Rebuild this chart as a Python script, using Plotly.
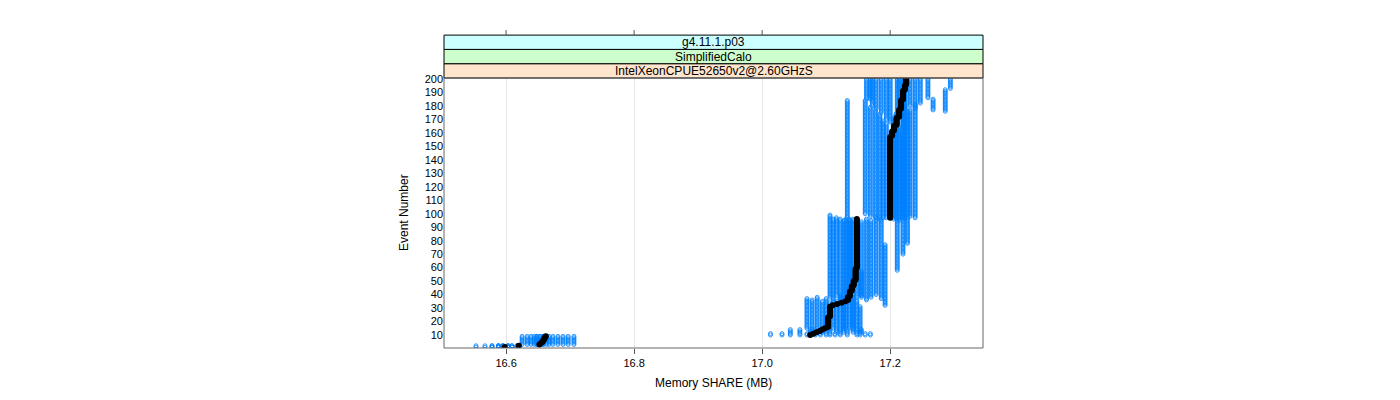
import plotly.graph_objects as go

# ---------------- data ----------------
events_low = list(range(1, 10))      # events in the lower (16.5-16.7 MB) cluster
events_high_first = 10
events_last = 200

# blue runs: lower cluster value for events 1-2 and for events 3-9
run_low_a = [16.553, 16.567, 16.578, 16.588, 16.595, 16.603, 16.609, 16.617, 16.603,
             16.595, 16.588, 16.609, 16.578, 16.617, 16.595, 16.603, 16.588]
run_low_b = [16.625, 16.633, 16.639, 16.644, 16.648, 16.653, 16.658, 16.663, 16.667,
             16.673, 16.681, 16.689, 16.697, 16.706, 16.653, 16.658, 16.648]

# blue runs: upper part as (start event, value) steps
run_starts = [
    [10, 12, 15, 38, 100, 185],
    [10, 12, 15, 37, 97, 185],
    [10, 12, 15, 39, 98, 180],
    [10, 12, 15, 36, 97, 178],
    [10, 12, 15, 38, 96, 175],
    [10, 12, 15, 35, 97, 170],
    [10, 12, 15, 37, 97, 168],
    [10, 12, 15, 36, 96, 172],
    [10, 12, 15, 40, 97, 175],
    [10, 12, 15, 38, 95, 165],
    [10, 12, 15, 36, 97, 160],
    [10, 12, 15, 38, 96, 180],
    [10, 12, 15, 40, 98, 178],
    [10, 12, 15, 37, 97, 182],
    [10, 12, 15, 32, 78, 177, 186],
    [10, 12, 15, 39, 58, 176, 193],
    [10, 12, 15, 38, 70, 170],
]
run_values = [
    [17.013, 17.044, 17.070, 17.106, 17.161, 17.163],
    [17.031, 17.059, 17.078, 17.111, 17.133, 17.169],
    [17.044, 17.075, 17.086, 17.116, 17.169, 17.172],
    [17.059, 17.078, 17.094, 17.122, 17.177, 17.178],
    [17.070, 17.083, 17.100, 17.128, 17.184, 17.186],
    [17.075, 17.091, 17.105, 17.131, 17.189, 17.194],
    [17.083, 17.094, 17.111, 17.136, 17.194, 17.200],
    [17.091, 17.100, 17.116, 17.138, 17.205, 17.211],
    [17.100, 17.106, 17.122, 17.142, 17.209, 17.214],
    [17.106, 17.116, 17.127, 17.155, 17.214, 17.220],
    [17.114, 17.122, 17.131, 17.163, 17.219, 17.223],
    [17.122, 17.127, 17.136, 17.170, 17.223, 17.231],
    [17.133, 17.133, 17.142, 17.178, 17.231, 17.239],
    [17.148, 17.142, 17.148, 17.186, 17.239, 17.247],
    [17.153, 17.148, 17.153, 17.192, 17.227, 17.267, 17.259],
    [17.161, 17.153, 17.142, 17.155, 17.211, 17.286, 17.294],
    [17.169, 17.155, 17.127, 17.148, 17.220, 17.223],
]

# black (highlighted) run
black_low = [16.598, 16.620, 16.652, 16.655, 16.657, 16.658, 16.660, 16.660, 16.662]
black_starts = [10, 11, 12, 13, 14, 15, 16, 24, 32, 33, 34, 35, 36, 39, 43, 47, 51, 60,
                97, 158, 162, 166, 172, 178, 185, 192, 196]
black_values = [17.075, 17.080, 17.085, 17.090, 17.094, 17.098, 17.103, 17.106,
                17.110, 17.117, 17.124, 17.130, 17.134, 17.137, 17.140, 17.143,
                17.146, 17.148,
                17.200, 17.203, 17.206, 17.210, 17.214, 17.217, 17.220, 17.223, 17.225]

x_ticks = [16.6, 16.8, 17.0, 17.2]
x_tick_labels = ["16.6", "16.8", "17.0", "17.2"]
y_ticks = list(range(10, 201, 10))
strip_labels = ["IntelXeonCPUE52650v2@2.60GHzS", "SimplifiedCalo", "g4.11.1.p03"]
strip_colors = ["#FFE5CC", "#CCFFCC", "#CCFFFF"]


def expand(starts, values, end):
    out = []
    for i, (s, v) in enumerate(zip(starts, values)):
        e = starts[i + 1] if i + 1 < len(starts) else end + 1
        out += [v] * (e - s)
    return out


high_events = list(range(events_high_first, events_last + 1))

fig = go.Figure()
BLUE = "#0080ff"
for i in range(len(run_starts)):
    low = [run_low_a[i]] * 2 + [run_low_b[i]] * (len(events_low) - 2)
    high = expand(run_starts[i], run_values[i], events_last)
    fig.add_trace(go.Scatter(
        x=low + high,
        y=events_low + high_events,
        mode="markers",
        marker=dict(symbol="circle-open", size=4, color=BLUE, line=dict(width=0.8)),
        showlegend=False, hoverinfo="skip",
    ))

black_high = expand(black_starts, black_values, events_last)
fig.add_trace(go.Scatter(
    x=black_low + black_high,
    y=events_low + high_events,
    mode="markers",
    marker=dict(symbol="circle", size=6, color="black"),
    showlegend=False, hoverinfo="skip",
))

# page has an 8px body margin, so the figure is drawn 8px right/down
W, H = 1384, 384
OFF = 8
L, T = 444 - OFF, 78 - OFF
R = W - (983 - OFF)
B = H - (348 - OFF)
ph = H - T - B
pw = W - L - R

shapes = []
strip_h = 14.3 / ph
for k, col in enumerate(strip_colors):
    y0 = 1 + k * strip_h
    shapes.append(dict(type="rect", xref="paper", yref="paper", x0=0, x1=1,
                       y0=y0, y1=y0 + strip_h, fillcolor=col,
                       line=dict(color="black", width=1), layer="above"))
top = 1 + 3 * strip_h
for xv in x_ticks:
    shapes.append(dict(type="line", xref="x", yref="paper", x0=xv, x1=xv,
                       y0=top, y1=top + 5 / ph, line=dict(color="#555", width=1)))
shapes.append(dict(type="rect", xref="paper", yref="paper", x0=0, x1=1, y0=0, y1=1,
                   line=dict(color="#666", width=1), layer="above"))

annotations = []
for k, lab in enumerate(strip_labels):
    annotations.append(dict(text=lab, xref="paper", yref="paper", x=0.5,
                            y=1 + (k + 0.5) * strip_h, showarrow=False,
                            xanchor="center", yanchor="middle",
                            font=dict(size=12, color="black")))
annotations.append(dict(text="Memory SHARE (MB)", xref="paper", yref="paper",
                        x=0.5, y=-(383 - 348) / ph, showarrow=False,
                        xanchor="center", yanchor="middle", font=dict(size=12)))
annotations.append(dict(text="Event Number", xref="paper", yref="paper",
                        x=(404 - 444) / pw, y=0.5, showarrow=False, textangle=-90,
                        xanchor="center", yanchor="middle", font=dict(size=12)))

fig.update_layout(
    width=W, height=H,
    margin=dict(l=L, r=R, t=T, b=B, autoexpand=False),
    paper_bgcolor="white", plot_bgcolor="white",
    font=dict(family="Liberation Sans, Arial, sans-serif", size=11, color="black"),
    shapes=shapes, annotations=annotations,
    xaxis=dict(range=[16.503, 17.345], tickvals=x_ticks, ticktext=x_tick_labels,
               ticks="outside", ticklen=5, tickcolor="#555", showgrid=True,
               gridcolor="#e6e6e6", zeroline=False, showline=False,
               tickfont=dict(size=11)),
    yaxis=dict(range=[0.35, 200.7], tickvals=y_ticks, ticks="", showgrid=False,
               zeroline=False, showline=False, tickfont=dict(size=11)),
)

fig.write_html("out.html")
